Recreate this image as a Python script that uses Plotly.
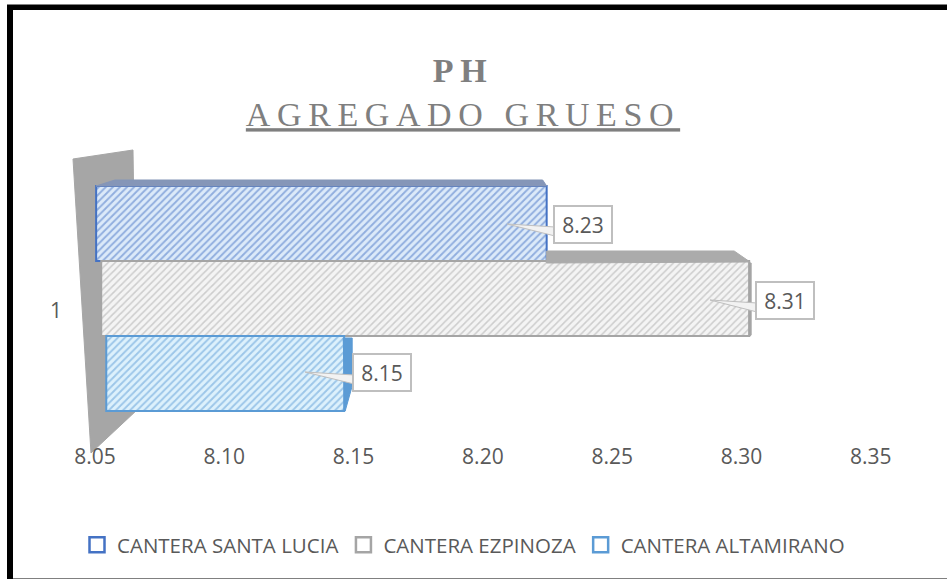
import plotly.graph_objects as go

categories = [1]
series_names = ["CANTERA SANTA LUCIA", "CANTERA EZPINOZA", "CANTERA ALTAMIRANO"]
values = [8.23, 8.31, 8.15]
# perspective start of each bar
starts = [8.052, 8.054, 8.056]
tick_vals = [8.05, 8.10, 8.15, 8.20, 8.25, 8.30, 8.35]
line_colors = ["#4472C4", "#A5A5A5", "#5B9BD5"]
back_colors = ["#DCEAF9", "#F4F4F4", "#DDF1FC"]
solidities = [0.38, 0.3, 0.38]

W, H = 947, 579
L, R, T, B = 60, 900, 148, 449
BAR_RANGE = [8.03772, 8.3696]
TICK_RANGE = [8.03647, 8.3613]

def px(x):
    return (x - L) / (R - L)
def py(y):
    return 1 - (y - T) / (B - T)
def val_px(v):
    return L + (v - BAR_RANGE[0]) / (BAR_RANGE[1] - BAR_RANGE[0]) * (R - L)

fig = go.Figure()
for name, v, s, lc, bc, sol in zip(series_names, values, starts, line_colors, back_colors, solidities):
    fig.add_trace(go.Bar(
        name=name, y=categories, x=[v - s], base=[s], orientation="h",
        marker=dict(color=bc, line=dict(color=lc, width=2),
                    pattern=dict(shape="/", fgcolor=lc, bgcolor=bc, size=5, solidity=sol)),
        xaxis="x", yaxis="y", hoverinfo="skip", textposition="none",
    ))
# carries the printed tick scale of the 3-D axis
fig.add_trace(go.Scatter(x=tick_vals, y=[None] * len(tick_vals), xaxis="x2", yaxis="y",
                         mode="markers", showlegend=False, hoverinfo="skip"))

shapes = []
def poly(points, fill, line=None, layer="above"):
    d = "M " + " L ".join(f"{px(x):.5f},{py(y):.5f}" for x, y in points) + " Z"
    shapes.append(dict(type="path", path=d, xref="paper", yref="paper", fillcolor=fill,
                       line=dict(color=line or fill, width=1), layer=layer))

ends = [val_px(v) for v in values]
# wall
poly([(73, 159), (133, 150), (137, 410), (91, 453)], "#A6A6A6", layer="below")
# 3-D faces
poly([(96, 186), (115, 180), (ends[0] - 4, 180), (ends[0], 186)], "#8596B8")
poly([(ends[0], 263), (ends[0], 251), (ends[1] - 15, 251), (ends[1] + 1, 262)], "#ABABAB")
poly([(ends[1], 263), (ends[1] + 2, 263), (ends[1] + 2, 335), (ends[1], 337)], "#A5A5A5")
poly([(ends[2] - 1, 338), (ends[2] + 8, 338), (ends[2] + 8, 386), (ends[2] + 1, 411)], "#5B9BD5")

# callouts
labels = [(583, 224, 507), (785, 300, 710), (382, 372, 305)]
annotations = []
for v, (cx, cy, tip) in zip(values, labels):
    left = cx - 29
    poly([(tip, cy), (left + 1, cy + 3), (left + 1, cy + 12)], "#F2F2F2", "#BFBFBF")
    annotations.append(dict(xref="paper", yref="paper", x=px(cx), y=py(cy), text=f"{v:.2f}",
                            showarrow=False, xanchor="center", yanchor="middle",
                            width=56, height=35, align="center", valign="middle",
                            bgcolor="#FFFFFF", bordercolor="#BFBFBF", borderwidth=2, borderpad=0,
                            font=dict(family="Open Sans", size=21, color="#595959")))

# picture frame
frame = "#000000"
shapes += [
    dict(type="rect", xref="paper", yref="paper", x0=px(7), x1=px(13), y0=py(579), y1=py(4), fillcolor=frame, line_width=0),
    dict(type="rect", xref="paper", yref="paper", x0=px(7), x1=px(947), y0=py(10), y1=py(5), fillcolor=frame, line_width=0),
    dict(type="rect", xref="paper", yref="paper", x0=px(7), x1=px(947), y0=py(5), y1=py(4), fillcolor="#808080", line_width=0),
    dict(type="rect", xref="paper", yref="paper", x0=px(13), x1=px(947), y0=py(579), y1=py(578), fillcolor="#808080", line_width=0),
]

fig.update_layout(
    width=W, height=H, autosize=False,
    margin=dict(l=L, r=W - R, t=T, b=H - B, pad=0),
    paper_bgcolor="#FFFFFF", plot_bgcolor="rgba(0,0,0,0)",
    barmode="group", bargap=0.2525, bargroupgap=0,
    title=dict(text="<b>PH</b><br><u>AGREGADO GRUESO</u>", x=463 / W, xanchor="center",
               y=1 - 82 / H, yanchor="top",
               font=dict(family="Liberation Serif", size=34, color="#7F7F7F")),
    xaxis=dict(range=BAR_RANGE, showticklabels=False, showgrid=False,
               zeroline=False, showline=False, ticks=""),
    xaxis2=dict(range=TICK_RANGE, overlaying="x", side="bottom", anchor="y",
                tickmode="array", tickvals=tick_vals, ticktext=[f"{t:.2f}" for t in tick_vals],
                showgrid=False, zeroline=False, showline=False, ticks="", ticklabelstandoff=-7,
                tickfont=dict(family="Open Sans", size=21, color="#595959")),
    yaxis=dict(range=[1.5, 0.5], tickmode="array", tickvals=[1.04], ticktext=["1"],
               showgrid=False, zeroline=False, showline=False, ticks="", ticklabelstandoff=-3,
               tickfont=dict(family="Open Sans", size=21, color="#595959")),
    legend=dict(orientation="h", x=px(77), y=py(545), yanchor="middle", xanchor="left",
                traceorder="normal", font=dict(family="Open Sans", size=20.5, color="#595959"),
                bgcolor="rgba(0,0,0,0)", itemclick=False, itemdoubleclick=False),
    shapes=shapes, annotations=annotations,
)

post = """
document.body.style.margin = '0';
var st = document.createElement('style');
st.textContent = '.gtitle { letter-spacing: 6.6px; } '
  + '.legend .legendpoints path { fill: #fff !important; transform: translate(20px, 0) scale(1.25); }';
document.head.appendChild(st);
"""
fig.write_html("out.html", post_script=post, config={"displayModeBar": False})
